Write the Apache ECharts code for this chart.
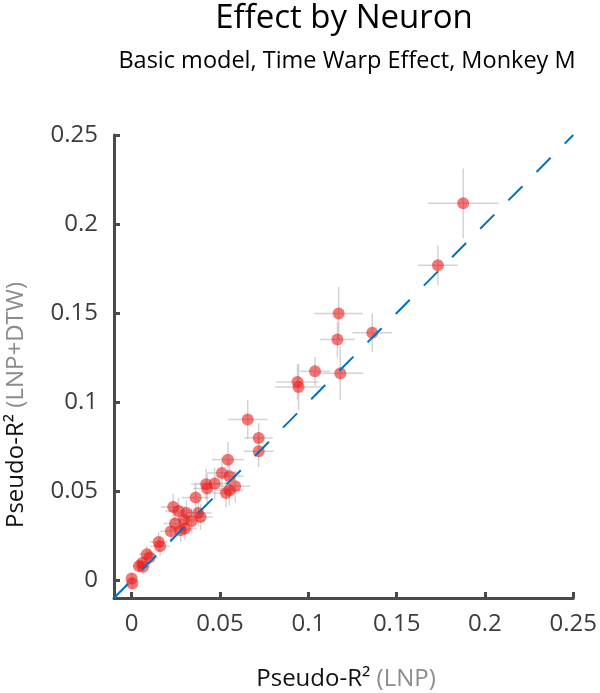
<!DOCTYPE html>
<html>
<head>
<meta charset="utf-8">
<script src="https://cdn.jsdelivr.net/npm/echarts@6/dist/echarts.min.js"></script>
<style>
html,body{margin:0;padding:0;background:#fff;}
#chart{width:600px;height:693px;}
</style>
</head>
<body>
<div id="chart"></div>
<script>
// ---- data ----
const titleText = 'Effect by Neuron';
const subtitleText = 'Basic model, Time Warp Effect, Monkey M';
const xName = 'Pseudo-R²';
const xNameExtra = '(LNP)';
const yName = 'Pseudo-R²';
const yNameExtra = '(LNP+DTW)';

const xVals = [0.1877, 0.1734, 0.1172, 0.1165, 0.1362, 0.1181, 0.1038, 0.0939, 0.0945, 0.0657,
               0.0719, 0.0719, 0.0545, 0.0511, 0.0554, 0.0470, 0.0422, 0.0427, 0.0586, 0.0553,
               0.0534, 0.0362, 0.0235, 0.0265, 0.0310, 0.0377, 0.0390, 0.0297, 0.0340, 0.0246,
               0.0302, 0.0222, 0.0278, 0.0153, 0.0161, 0.0086, 0.0101, 0.0060, 0.0041, 0.0063,
               0.0000, 0.0004];
const yVals = [0.2117, 0.1768, 0.1497, 0.1351, 0.1390, 0.1162, 0.1173, 0.1113, 0.1085, 0.0903,
               0.0799, 0.0724, 0.0677, 0.0602, 0.0584, 0.0543, 0.0539, 0.0515, 0.0528, 0.0505,
               0.0490, 0.0464, 0.0411, 0.0389, 0.0378, 0.0378, 0.0355, 0.0340, 0.0333, 0.0318,
               0.0290, 0.0275, 0.0281, 0.0215, 0.0191, 0.0146, 0.0127, 0.0097, 0.0079, 0.0075,
               0.0010, -0.0019];
const xErr = [0.0200, 0.0113, 0.0137, 0.0100, 0.0112, 0.0130, 0.0085, 0.0120, 0.0135, 0.0112,
              0.0080, 0.0085, 0.0090, 0.0085, 0.0080, 0.0090, 0.0085, 0.0080, 0.0085, 0.0080,
              0.0075, 0.0080, 0.0070, 0.0075, 0.0070, 0.0075, 0.0070, 0.0070, 0.0072, 0.0065,
              0.0068, 0.0060, 0.0065, 0.0050, 0.0055, 0.0045, 0.0048, 0.0040, 0.0035, 0.0038,
              0.0015, 0.0018];
const yErr = [0.0195, 0.0112, 0.0150, 0.0100, 0.0107, 0.0150, 0.0080, 0.0100, 0.0130, 0.0110,
              0.0085, 0.0090, 0.0100, 0.0090, 0.0085, 0.0090, 0.0085, 0.0080, 0.0090, 0.0085,
              0.0080, 0.0085, 0.0075, 0.0075, 0.0070, 0.0075, 0.0072, 0.0070, 0.0070, 0.0068,
              0.0065, 0.0062, 0.0065, 0.0055, 0.0055, 0.0048, 0.0050, 0.0042, 0.0040, 0.0040,
              0.0030, 0.0030];

const tickValues = [0, 0.05, 0.1, 0.15, 0.2, 0.25];
const tickLabels = ['0', '0.05', '0.1', '0.15', '0.2', '0.25'];
const axisMin = -0.01;
const axisMax = 0.25;
const identityLine = [[-0.01, -0.01], [0.25, 0.25]];

// ---- chart ----
const FONT = '"Open Sans", "Liberation Sans", sans-serif';
const AXIS_COLOR = '#4a4a4a';
const LABEL_COLOR = '#3c3c3c';

function fmt(v) {
  let best = 0, bd = Infinity;
  tickValues.forEach((t, i) => { const d = Math.abs(t - v); if (d < bd) { bd = d; best = i; } });
  return tickLabels[best];
}

function makeAxis(isX) {
  return {
    type: 'value',
    min: axisMin,
    max: axisMax,
    axisLine: { show: true, onZero: false, lineStyle: { color: AXIS_COLOR, width: 3 } },
    axisTick: { show: true, inside: true, length: 6, customValues: tickValues,
                lineStyle: { color: AXIS_COLOR, width: 3 } },
    axisLabel: { show: true, customValues: tickValues, formatter: fmt,
                 color: LABEL_COLOR, fontFamily: FONT, fontSize: 24,
                 margin: isX ? 14 : 16 },
    splitLine: { show: false }
  };
}

const chart = echarts.init(document.getElementById('chart'), null, { renderer: 'canvas' });

const errData = xVals.map((x, i) => [x, yVals[i], xErr[i], yErr[i]]);
const ptData = xVals.map((x, i) => [x, yVals[i]]);

const richName = {
  a: { fontFamily: FONT, fontSize: 24, fill: '#111' },
  b: { fontFamily: FONT, fontSize: 24, fill: '#8c8c8c' }
};

chart.setOption({
  animation: false,
  backgroundColor: '#ffffff',
  grid: { left: 114, right: 21, top: 135, bottom: 95, containLabel: false },
  xAxis: makeAxis(true),
  yAxis: makeAxis(false),
  graphic: [
    { type: 'text', x: 344, y: 19, style: { text: titleText, font: '400 33px ' + FONT,
      fill: '#000', align: 'center', verticalAlign: 'middle' } },
    { type: 'text', x: 347, y: 61, style: { text: subtitleText, font: '400 23.5px ' + FONT,
      fill: '#000', align: 'center', verticalAlign: 'middle' } },
    { type: 'text', x: 346, y: 679, style: {
      text: '{a|' + xName + ' }{b|' + xNameExtra + '}',
      align: 'center', verticalAlign: 'middle', rich: richName } },
    { type: 'text', x: 16, y: 405, rotation: Math.PI / 2, style: {
      text: '{a|' + yName + ' }{b|' + yNameExtra + '}',
      align: 'center', verticalAlign: 'middle', rich: richName } }
  ],
  series: [
    {
      type: 'custom',
      data: errData,
      encode: { x: 0, y: 1 },
      z: 1,
      clip: false,
      renderItem: function (params, api) {
        const x = api.value(0), y = api.value(1), xe = api.value(2), ye = api.value(3);
        const a = api.coord([x - xe, y]), b = api.coord([x + xe, y]);
        const c = api.coord([x, y - ye]), d = api.coord([x, y + ye]);
        const st = { stroke: 'rgba(175,175,175,0.55)', lineWidth: 1.5 };
        return { type: 'group', children: [
          { type: 'line', shape: { x1: a[0], y1: a[1], x2: b[0], y2: b[1] }, style: st },
          { type: 'line', shape: { x1: c[0], y1: c[1], x2: d[0], y2: d[1] }, style: st }
        ] };
      }
    },
    {
      type: 'scatter',
      data: ptData,
      symbol: 'circle',
      symbolSize: 12,
      z: 2,
      itemStyle: { color: 'rgba(236,28,28,0.6)', borderWidth: 0, opacity: 1 }
    },
    {
      type: 'line',
      data: identityLine,
      z: 3,
      symbol: 'none',
      silent: true,
      lineStyle: { color: '#0072BD', width: 2, type: [20, 20] }
    }
  ]
});
</script>
</body>
</html>
